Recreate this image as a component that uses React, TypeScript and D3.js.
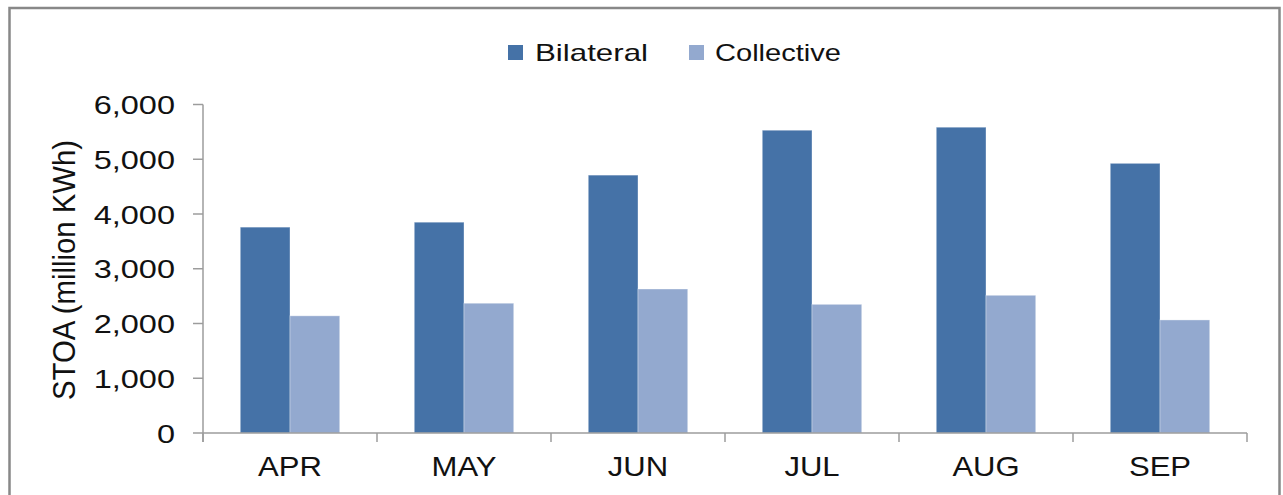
import React from "react";
import * as d3 from "d3";

const months = ["APR", "MAY", "JUN", "JUL", "AUG", "SEP"];
const seriesNames = ["Bilateral", "Collective"];
const bilateral = [3760, 3850, 4710, 5530, 5585, 4925];
const collective = [2140, 2370, 2630, 2350, 2515, 2065];
const yTicks = [0, 1000, 2000, 3000, 4000, 5000, 6000];
const colors = ["#4572A7", "#93A9CF"];
const yLabel = "STOA (million KWh)";

export default function App() {
  const W = 1283, H = 495;
  const x0 = d3.scaleBand<string>().domain(months).range([203, 1247]).paddingInner(0).paddingOuter(0);
  const x1 = d3.scaleBand<string>().domain(seriesNames).range([0, x0.bandwidth()]).paddingInner(0).paddingOuter(0.75);
  const y = d3.scaleLinear().domain([0, 6000]).range([433, 104.5]);
  const fmt = d3.format(",");
  const data = [bilateral, collective];
  const axisColor = "#9c9c9c";
  const font = "'Liberation Sans', Arial, sans-serif";

  const legendItems = [
    { name: seriesNames[0], sx: 508, tx: 535, len: 113 },
    { name: seriesNames[1], sx: 689, tx: 715, len: 126 },
  ];

  return (
    <svg width={W} height={H} style={{ position: "absolute", left: 0, top: 0, background: "#fff" }} fontFamily={font}>
      <rect x={0} y={0} width={W} height={H} fill="#fff" />
      {/* outer border */}
      <rect x={9.5} y={8} width={1270} height={500} fill="none" stroke="#888" strokeWidth={2.5} />

      {/* legend */}
      {legendItems.map((l, i) => (
        <g key={l.name}>
          <rect x={l.sx} y={45} width={15} height={15} fill={colors[i]} />
          <text x={l.tx} y={61} fontSize={24} fill="#111" textLength={l.len} lengthAdjust="spacingAndGlyphs">
            {l.name}
          </text>
        </g>
      ))}

      {/* bars */}
      {data.map((vals, si) =>
        vals.map((v, mi) => {
          const bx = (x0(months[mi]) as number) + (x1(seriesNames[si]) as number);
          return (
            <rect
              key={`${si}-${mi}`}
              x={bx}
              y={y(v)}
              width={x1.bandwidth()}
              height={y(0) - y(v)}
              fill={colors[si]}
              stroke="#ffffff"
              strokeOpacity={0.35}
              strokeWidth={1}
            />
          );
        })
      )}

      {/* y axis */}
      <line x1={203} x2={203} y1={y(6000)} y2={442} stroke={axisColor} strokeWidth={1.5} />
      {yTicks.map((t) => (
        <g key={t}>
          <line x1={193} x2={203} y1={y(t)} y2={y(t)} stroke={axisColor} strokeWidth={1.5} />
          <text
            transform={`translate(175,${y(t) + 9.5}) scale(1.25,1)`}
            textAnchor="end"
            fontSize={26}
            fill="#111"
          >
            {fmt(t)}
          </text>
        </g>
      ))}

      {/* x axis */}
      <line x1={203} x2={1247} y1={y(0)} y2={y(0)} stroke={axisColor} strokeWidth={1.5} />
      {[...months.map((m) => x0(m) as number), 1247].map((tx, i) => (
        <line key={i} x1={tx} x2={tx} y1={y(0)} y2={442} stroke={axisColor} strokeWidth={1.5} />
      ))}
      {months.map((m) => (
        <text
          key={m}
          transform={`translate(${(x0(m) as number) + x0.bandwidth() / 2},476) scale(1.15,1)`}
          textAnchor="middle"
          fontSize={27}
          fill="#111"
        >
          {m}
        </text>
      ))}

      {/* y label */}
      <text
        transform={`translate(75,270) scale(1.2,1) rotate(-90)`}
        textAnchor="middle"
        fontSize={26}
        fill="#111"
        textLength={260}
        lengthAdjust="spacingAndGlyphs"
      >
        {yLabel}
      </text>
    </svg>
  );
}
